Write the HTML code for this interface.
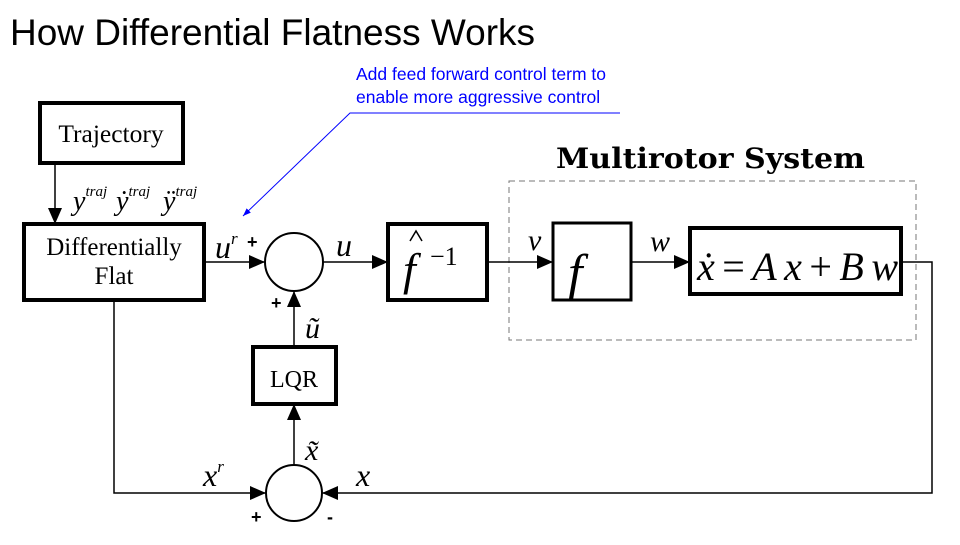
<!DOCTYPE html>
<html><head><meta charset="utf-8"><style>
body{margin:0;width:960px;height:540px;background:#fff;overflow:hidden}
</style></head><body>
<svg width="960" height="540" xmlns="http://www.w3.org/2000/svg">
<defs><marker id="b" markerWidth="8" markerHeight="8" refX="8" refY="4" orient="auto" markerUnits="userSpaceOnUse"><path d="M0,1 L8,4 L0,7 z" fill="#00f"/></marker>
<marker id="c" markerWidth="16" markerHeight="14" refX="16" refY="7" orient="auto" markerUnits="userSpaceOnUse"><path d="M0,0 L16,7 L0,14 z" fill="#000"/></marker></defs>
<text x="10" y="45" font-family="Liberation Sans, sans-serif" font-size="37" fill="#000">How Differential Flatness Works</text>
<text x="356" y="80" font-family="Liberation Sans, sans-serif" font-size="17.5" fill="#00f">Add feed forward control term to</text>
<text x="356" y="103" font-family="Liberation Sans, sans-serif" font-size="17.5" fill="#00f">enable more aggressive control</text>
<polyline points="620,113 350,113 243,216" fill="none" stroke="#00f" stroke-width="1" marker-end="url(#b)"/>
<g fill="none" stroke="#000">
<rect x="40" y="103" width="143" height="60" stroke-width="4"/>
<rect x="24" y="224" width="180" height="76" stroke-width="4"/>
<rect x="388" y="224" width="99" height="76" stroke-width="4"/>
<rect x="553" y="223" width="78" height="77" stroke-width="3"/>
<rect x="690" y="228" width="211" height="66" stroke-width="4"/>
<rect x="253" y="347" width="83" height="57" stroke-width="4"/>
<rect x="509" y="181" width="407" height="159" stroke="#777" stroke-width="1" stroke-dasharray="6,4"/>
<circle cx="294" cy="262" r="29" stroke-width="2"/>
<circle cx="294" cy="493" r="28" stroke-width="2"/>
<g stroke-width="1.5">
<line x1="55" y1="163" x2="55" y2="224" marker-end="url(#c)"/>
<line x1="204" y1="262" x2="265" y2="262" marker-end="url(#c)"/>
<line x1="323" y1="262" x2="388" y2="262" marker-end="url(#c)"/>
<line x1="487" y1="262" x2="553" y2="262" marker-end="url(#c)"/>
<line x1="631" y1="262" x2="690" y2="262" marker-end="url(#c)"/>
<line x1="294" y1="347" x2="294" y2="291" marker-end="url(#c)"/>
<line x1="294" y1="465" x2="294" y2="404" marker-end="url(#c)"/>
<polyline points="114,300 114,493 266,493" marker-end="url(#c)"/>
<polyline points="901,262 932,262 932,493 322,493" marker-end="url(#c)"/>
</g>
<polyline points="410,241 416,231 422,241" stroke-width="1.5"/>
</g>
<g font-family="Liberation Serif, serif" fill="#000">
<text x="111" y="142" font-size="25.5" text-anchor="middle">Trajectory</text>
<text x="114" y="255" font-size="25" text-anchor="middle">Differentially</text>
<text x="114" y="284" font-size="25" text-anchor="middle">Flat</text>
<text x="294" y="387" font-size="24" text-anchor="middle">LQR</text>
<g font-style="italic">
<text x="73" y="210" font-size="28">y<tspan font-size="15" dy="-14">traj</tspan></text>
<text x="116" y="210" font-size="28">ẏ<tspan font-size="15" dy="-14">traj</tspan></text>
<text x="163" y="210" font-size="28">ÿ<tspan font-size="15" dy="-14">traj</tspan></text>
<text x="215" y="258" font-size="32">u<tspan font-size="17" dy="-14">r</tspan></text>
<text x="336" y="256" font-size="32">u</text>
<text x="403" y="285" font-size="46">f</text>
<text x="528" y="250" font-size="30">v</text>
<text x="650" y="251" font-size="30">w</text>
<text x="568" y="290" font-size="52">f</text>
<text x="697" y="280" font-size="40" textLength="201" lengthAdjust="spacing">ẋ<tspan font-style="normal">=</tspan>Ax<tspan font-style="normal">+</tspan>Bw</text>
<text x="305" y="338" font-size="30">ũ</text>
<text x="305" y="460" font-size="30">x̃</text>
<text x="203" y="486" font-size="32">x<tspan font-size="17" dy="-14">r</tspan></text>
<text x="356" y="486" font-size="32">x</text>
</g>
<text x="430" y="265" font-size="26">−1</text>
<text x="556" y="168" font-size="28" font-weight="bold" font-family="DejaVu Serif, serif" textLength="309" lengthAdjust="spacingAndGlyphs">Multirotor System</text>
</g>
<g font-family="Liberation Sans, sans-serif" font-size="18" font-weight="bold" fill="#000">
<text x="247" y="248">+</text>
<text x="271" y="309">+</text>
<text x="251" y="523">+</text>
<text x="327" y="523">-</text>
</g>
</svg>
</body></html>
